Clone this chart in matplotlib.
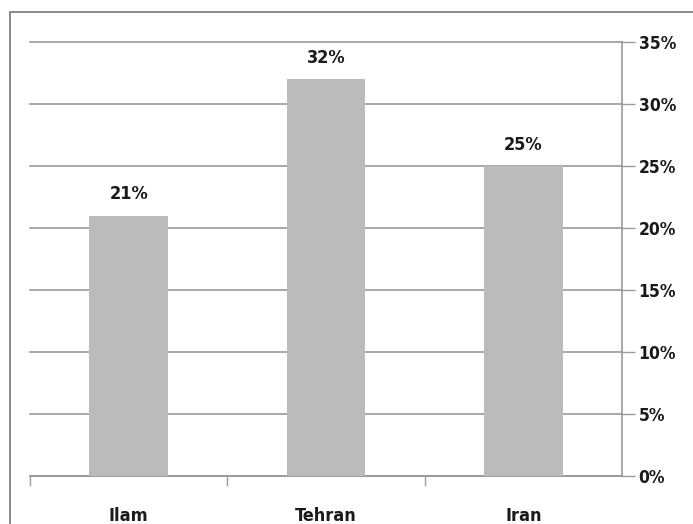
import matplotlib
matplotlib.use("Agg")
import matplotlib.pyplot as plt
from matplotlib.patches import Rectangle
from matplotlib.ticker import FixedLocator, NullFormatter, FuncFormatter

categories = ["Ilam", "Tehran", "Iran"]
values = [0.21, 0.32, 0.25]
value_labels = ["21%", "32%", "25%"]
yticks = [0, 0.05, 0.10, 0.15, 0.20, 0.25, 0.30, 0.35]

FONT = ["Liberation Sans Narrow", "DejaVu Sans"]
plt.rcParams["font.family"] = FONT
plt.rcParams["font.stretch"] = "condensed"

W, H = 693, 524
fig = plt.figure(figsize=(W / 100, H / 100), dpi=100)
fig.patch.set_facecolor("white")

# outer frame (top and left visible)
fig.add_artist(Rectangle((10 / W, -0.1), 1.2, 1 - 12 / H + 0.1, transform=fig.transFigure,
                         fill=False, edgecolor="#808080", linewidth=1.3))

ax = fig.add_axes([30 / W, 1 - 476 / H, (622 - 30) / W, (476 - 42) / H])
x = range(len(categories))
ax.bar(x, values, width=0.4, color="#bbbbbb", zorder=3)
ax.set_xlim(-0.5, len(categories) - 0.5)
ax.set_ylim(0, 0.35)

ax.yaxis.tick_right()
ax.set_yticks(yticks)
ax.yaxis.set_major_formatter(FuncFormatter(lambda v, p: f"{v * 100:.0f}%"))
ax.grid(axis="y", color="#9a9a9a", linewidth=1.2, zorder=0)
for gl in ax.get_ygridlines():
    gl.set_clip_on(False)
ax.tick_params(axis="y", which="major", length=9, width=1.0, color="#9a9a9a",
               labelsize=12.5, pad=3, labelcolor="#1a1a1a")
for lbl in ax.get_yticklabels():
    lbl.set_fontweight("bold")

ax.set_xticks(list(x))
ax.set_xticklabels(categories, fontsize=13, fontweight="bold", color="#1a1a1a")
ax.tick_params(axis="x", which="major", length=0, pad=22)
ax.xaxis.set_minor_locator(FixedLocator([-0.5, 0.5, 1.5]))
ax.xaxis.set_minor_formatter(NullFormatter())
ax.tick_params(axis="x", which="minor", length=7, width=1.0, color="#9a9a9a")

for s in ["top", "left"]:
    ax.spines[s].set_visible(False)
for s in ["right", "bottom"]:
    ax.spines[s].set_color("#9a9a9a")
    ax.spines[s].set_linewidth(1.2)

for xi, v, t in zip(x, values, value_labels):
    ax.annotate(t, (xi, v), xytext=(0, 9), textcoords="offset points", ha="center",
                va="bottom", fontsize=13, fontweight="bold", color="#1a1a1a")

fig.savefig("out.png", dpi=100)
